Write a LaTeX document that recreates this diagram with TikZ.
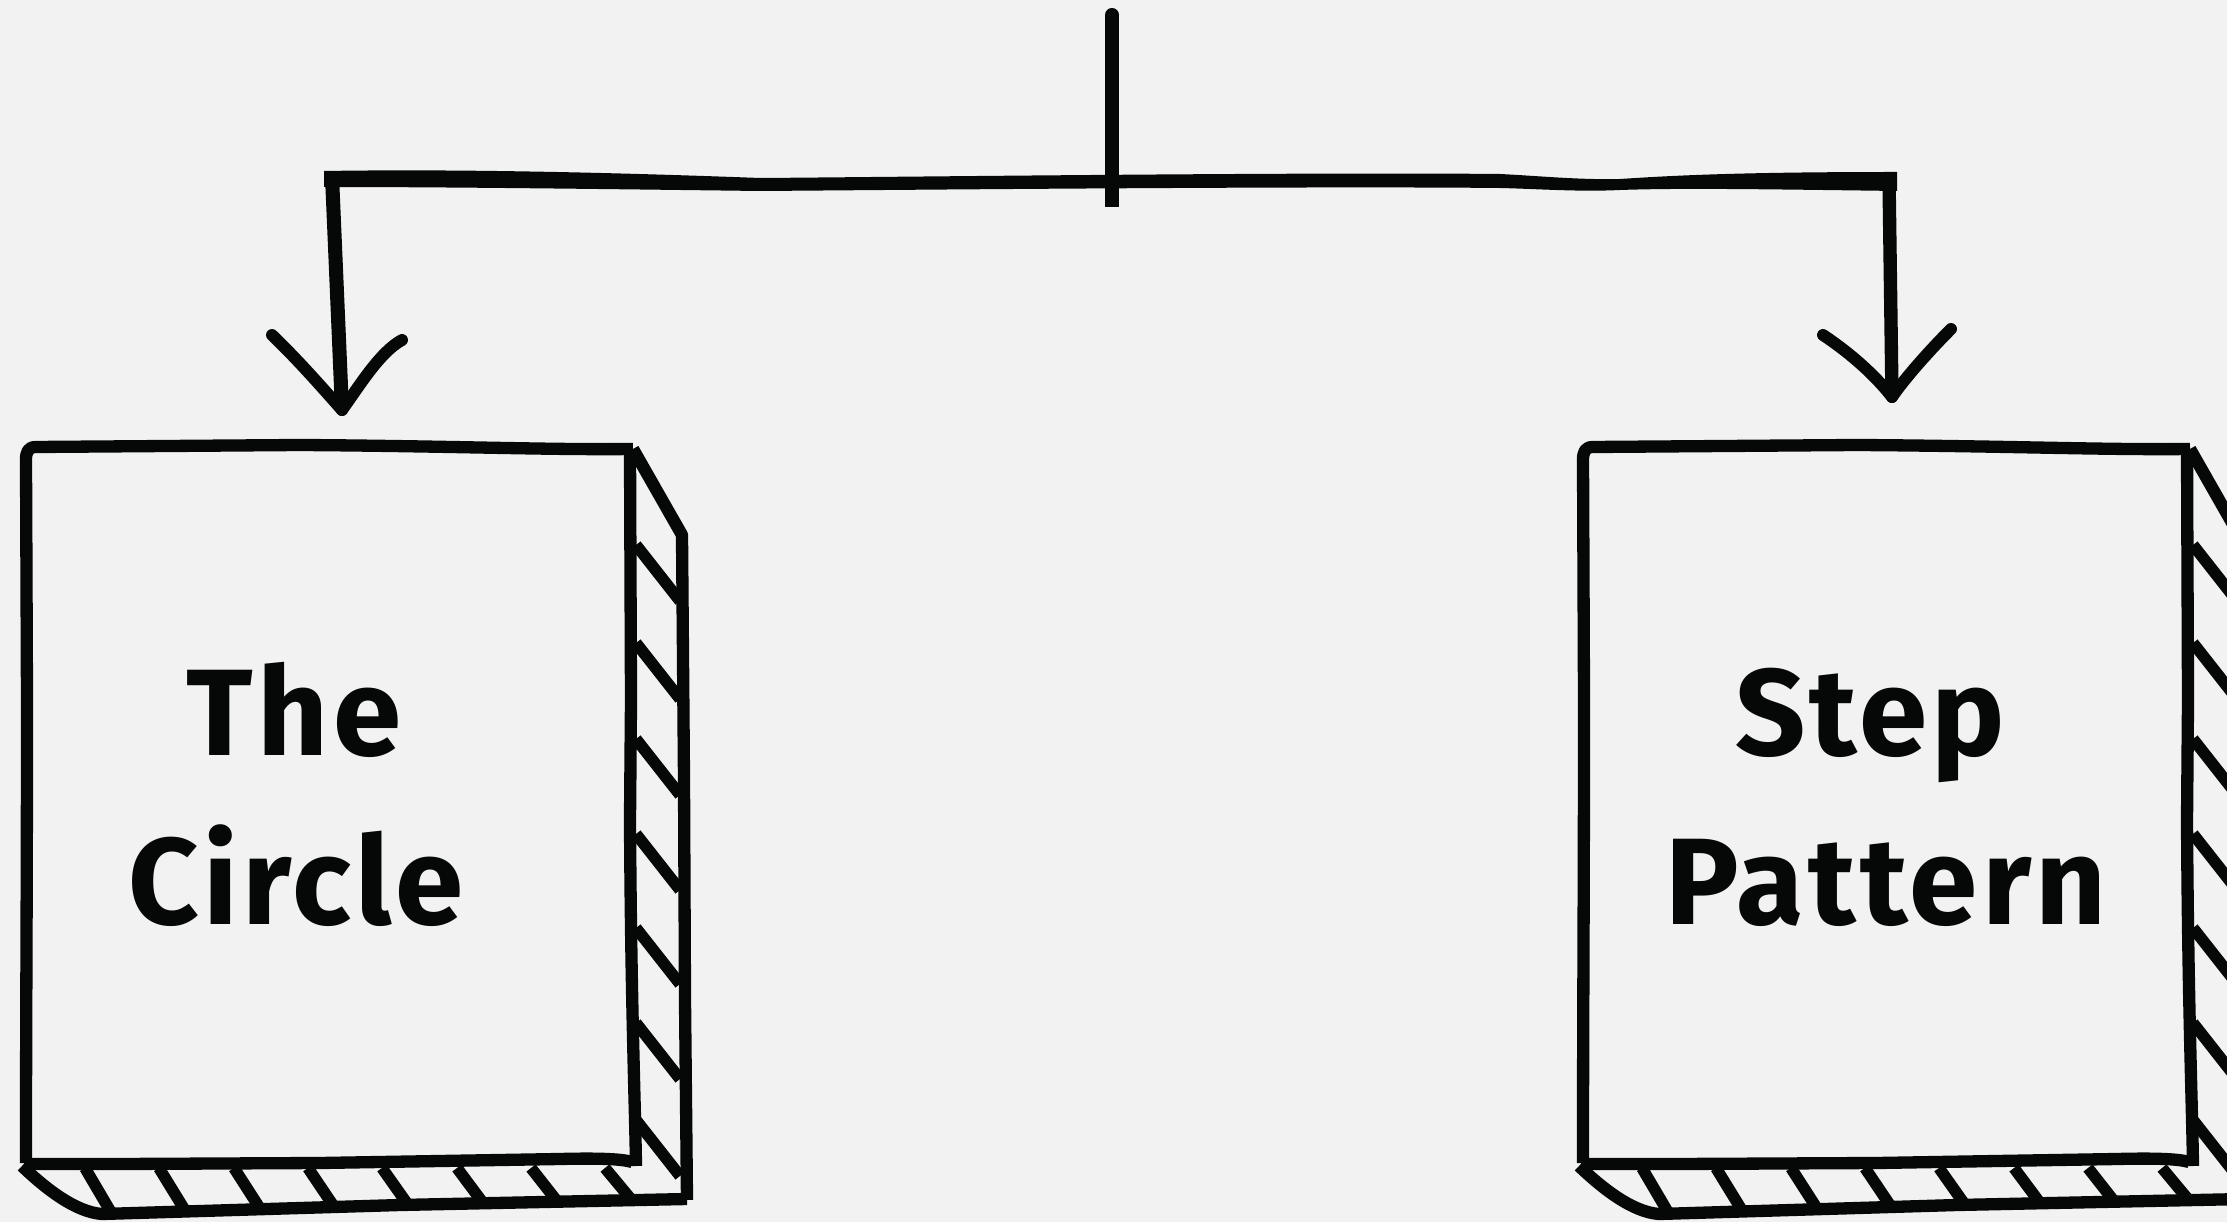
\documentclass[tikz,border=0pt]{standalone}
\usepackage{fontspec}
\newfontfamily\lblfont{Fira Sans}[LetterSpace=3.5]
\definecolor{bgc}{HTML}{F2F2F2}
\definecolor{inkc}{HTML}{050807}
\tikzset{
  boxline/.style={draw=inkc, line width=3.5pt, line join=round},
  hatchline/.style={draw=inkc, line width=3.3pt},
  wingline/.style={draw=inkc, line width=3.4pt, line cap=round},
  dropline/.style={draw=inkc, line width=4pt},
  stemline/.style={draw=inkc, line width=4pt},
  lbl/.style={font=\lblfont\bfseries\fontsize{35}{42}\selectfont, text=inkc, anchor=base, inner sep=0pt},
  sketchbox/.pic={
    % front face
    \draw[boxline] (26,1163) .. controls (26,1000) and (27,900) .. (27,700)
       -- (26,460) .. controls (26,452) and (28,447) .. (36,447)
       -- (300,445) .. controls (450,446) and (550,450) .. (633,449);
    \draw[boxline] (630,452) -- (631,700) -- (630,820)
       .. controls (631,1000) and (635,1100) .. (636,1166);
    \draw[boxline] (24,1164) -- (120,1164) -- (320,1163)
       -- (560,1159) .. controls (600,1158) and (622,1159) .. (632,1162);
    % side face
    \draw[boxline] (633,449) -- (682,535) -- (684,780) -- (685,1000) -- (687,1200);
    % bottom strip
    \draw[boxline] (22,1166) .. controls (45,1188) and (75,1212) .. (102,1214)
       -- (400,1205) -- (687,1199);
    \foreach \y in {545,643,739,834,928,1023,1120}
      \draw[hatchline] (636,\y) -- (680,\y+56);
    \foreach \x [evaluate=\x as \yb using {1215-0.025*(\x+26)}] in {85,159,234,308,382,457,531,605}
      \draw[hatchline] (\x,1168) -- (\x+26,\yb);
  }
}
\begin{document}
\begin{tikzpicture}[x=0.01cm, y=-0.01cm]
\fill[bgc] (0,0) rectangle (2227,1222);
\useasboundingbox (0,0) rectangle (2227,1222);
\clip (0,0) rectangle (2227,1222);

% boxes
\pic at (0,0) {sketchbox};
\pic at (1557,0) {sketchbox};

% labels
\node[lbl] (lThe) at (294,755) {The};
\node[lbl] (lCircle) at (296,924) {Circle};
\node[lbl] (lStep) at (1870,755) {Step};
\node[lbl] (lPattern) at (1886,924) {Pattern};

% connector coordinates
\coordinate (src) at (1112,15);
\coordinate (stemfoot) at (1112,207);
\coordinate (lturn) at (332,176);
\coordinate (ltip) at (342,410);
\coordinate (rturn) at (1889,178);
\coordinate (rtip) at (1892,397);
\coordinate (lwingA) at (272,335);
\coordinate (lwingB) at (402,340);
\coordinate (rwingA) at (1823,335);
\coordinate (rwingB) at (1951,329);

% stem
\draw[stemline] (src) -- (stemfoot);
\fill[inkc] (src) circle[radius=7];
% bus (brush stroke)
\fill[inkc] (324,171) .. controls (450,169) and (600,172) .. (760,178)
  .. controls (900,177) and (1300,172) .. (1500,174)
  .. controls (1540,176) and (1580,180) .. (1620,179)
  .. controls (1680,175) and (1750,172) .. (1897,172)
  -- (1897,191)
  .. controls (1750,189) and (1680,188) .. (1620,190)
  .. controls (1580,192) and (1540,189) .. (1500,188)
  .. controls (1300,186) and (900,190) .. (760,191)
  .. controls (600,189) and (450,187) .. (324,187) -- cycle;
% drops
\draw[dropline] (lturn) -- (ltip);
\draw[inkc, line width=3.8pt] (rturn) -- (rtip);
% arrow heads
\draw[wingline] (lwingA) .. controls (295,357) and (320,385) .. (ltip);
\draw[wingline] (ltip) .. controls (360,385) and (380,352) .. (lwingB);
\draw[wingline] (rwingA) .. controls (1850,353) and (1875,375) .. (rtip);
\draw[wingline] (rtip) .. controls (1905,378) and (1930,350) .. (rwingB);
\end{tikzpicture}
\end{document}
